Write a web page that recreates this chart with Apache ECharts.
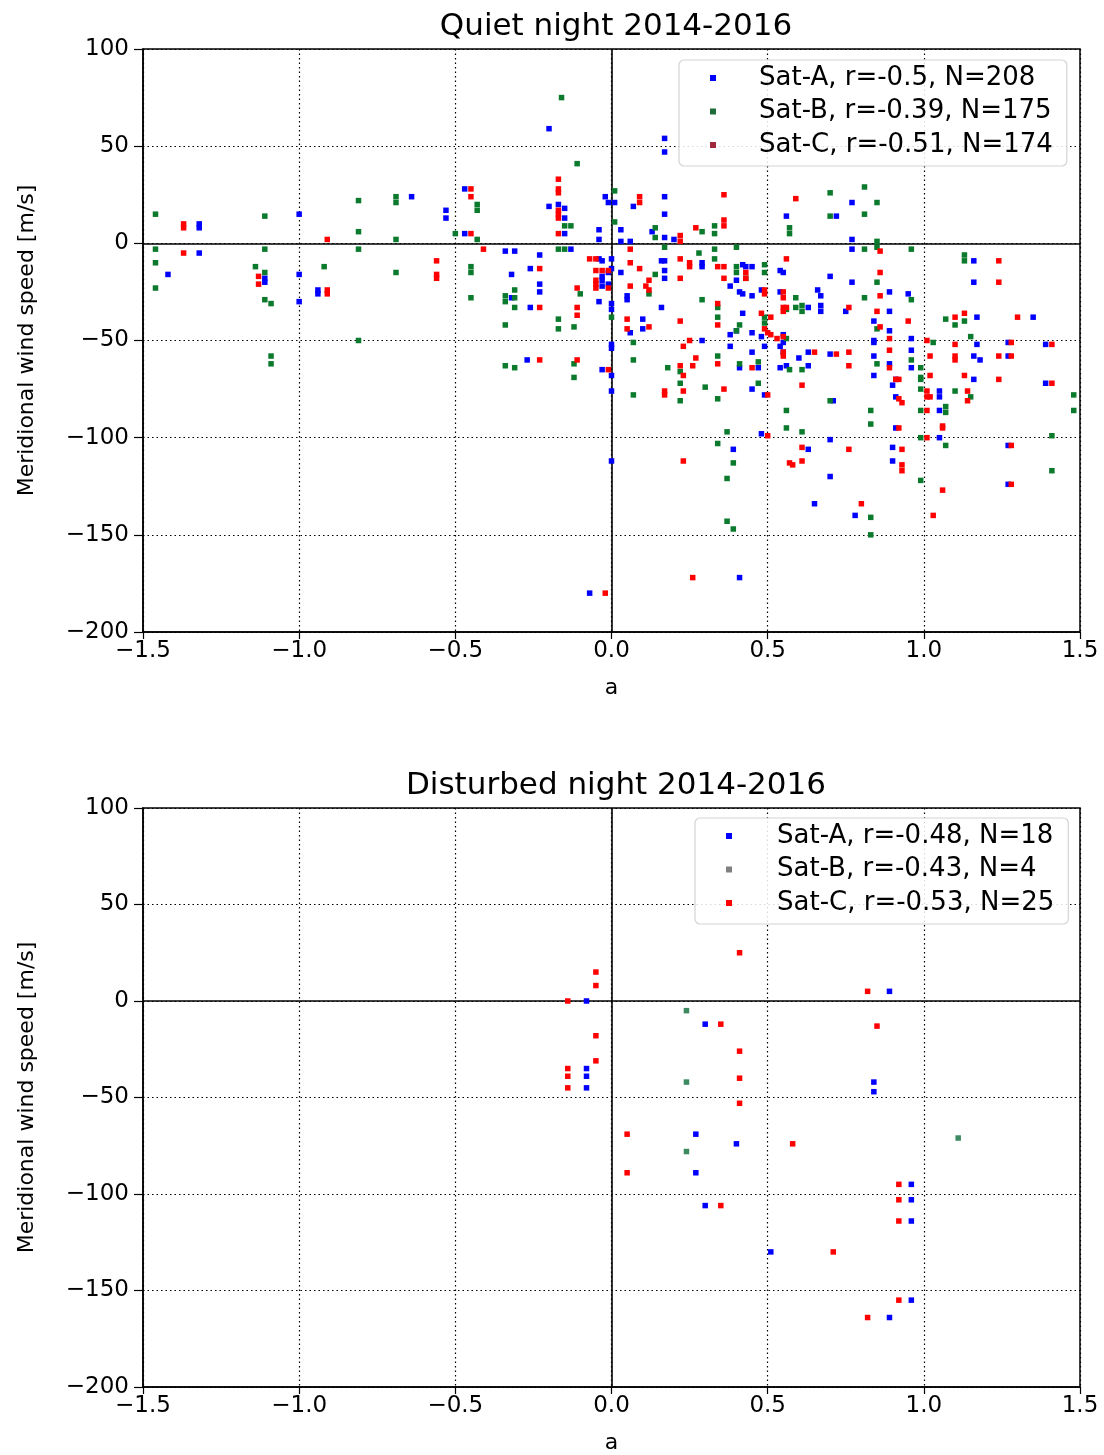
<!DOCTYPE html>
<html><head><meta charset="utf-8">
<script src="https://cdn.jsdelivr.net/npm/echarts@6/dist/echarts.min.js"></script>
<style>html,body{margin:0;padding:0;background:#fff}#c{width:1104px;height:1455px}</style>
</head><body><div id="c"></div>
<script>
// ---------- DATA ----------
const xTicks = [-1.5, -1.0, -0.5, 0.0, 0.5, 1.0, 1.5];
const yTicks = [-200, -150, -100, -50, 0, 50, 100];
const titles = ["Quiet night 2014-2016", "Disturbed night 2014-2016"];
const quietNames = ["Sat-A, r=-0.5, N=208", "Sat-B, r=-0.39, N=175", "Sat-C, r=-0.51, N=174"];
const disturbedNames = ["Sat-A, r=-0.48, N=18", "Sat-B, r=-0.43, N=4", "Sat-C, r=-0.53, N=25"];

const satA_quiet = [
[-1.42,-16],[-1.32,10],[-1.32,8],[-1.32,-5],[-1.11,-18],[-1.11,-20],[-1.0,15],[-1.0,-16],[-1.0,-30],
[-0.94,-24],[-0.94,-26],[-0.64,24],[-0.53,17],[-0.53,13],[-0.47,5],[-0.47,28],[-0.34,-4],[-0.31,-4],
[-0.23,-6],[-0.26,-13],[-0.32,-16],[-0.23,-21],[-0.23,-25],[-0.32,-28],[-0.26,-33],[-0.2,59],[0.17,54],[0.17,47],
[-0.2,19],[-0.17,20],[-0.15,18],[-0.15,13],[-0.15,5],[-0.13,-3],[-0.04,-8],[-0.03,-9],[-0.04,7],[-0.04,2],
[-0.02,24],[-0.01,21],[0.01,21],[0.03,7],[0.03,1],[0.06,1],[-0.03,-17],[-0.03,-19],[-0.03,-22],[-0.01,-21],[-0.01,-15],
[0.0,-8],[0.0,-13],[0.03,-15],[-0.04,-30],[0.0,-31],[0.0,-34],[0.0,-52],[0.07,19],[0.13,6],[0.17,24],[0.17,15],[0.17,3],[0.2,2],
[0.16,-9],[0.17,-9],[0.17,-14],[0.17,-18],[0.05,-27],[0.05,-29],[0.16,-33],[0.1,-39],[0.1,-44],[0.06,-46],
[0.29,-10],[0.29,-12],[0.42,-11],[0.45,-12],[0.43,-12],[0.38,-22],[0.40,-19],[0.41,-25],[0.42,-26],[0.45,-27],
[0.42,-36],[0.38,-47],[0.40,-45],[0.48,-24],[0.54,-14],[0.54,-25],[0.56,14],[0.45,-46],[0.48,-48],[0.49,-53],[0.55,-47],[0.55,-51],
[-0.27,-60],[-0.03,-65],[0.0,-68],[0.0,-76],[0.0,-112],[0.0,-54],[0.29,-50],[0.38,-53],[0.41,-64],[0.45,-56],[0.47,-64],
[0.45,-75],[0.49,-78],[0.48,-98],[0.39,-106],[0.41,-172],[-0.07,-180],[0.54,-53],[0.54,-64],
[0.77,21],[0.72,14],[0.77,2],[0.77,-3],[0.55,-15],[0.70,-17],[0.77,-20],[0.66,-24],[0.67,-27],[0.89,-25],[0.95,-26],
[0.63,-33],[0.67,-32],[0.67,-35],[0.75,-35],[0.89,-35],[0.84,-40],[0.89,-45],[0.84,-50],[0.84,-51],[0.96,-49],
[1.16,-9],[1.16,-20],[1.17,-38],[1.35,-38],[1.27,-51],[1.17,-52],[1.39,-52],[0.55,-56],[0.6,-59],[0.63,-56],[0.70,-57],
[0.84,-58],[0.96,-55],[0.56,-63],[0.63,-63],[0.84,-68],[0.89,-62],[0.96,-64],[0.9,-73],[0.91,-70],[0.71,-81],[0.91,-79],
[1.05,-76],[1.05,-79],[1.05,-86],[0.91,-95],[1.05,-100],[0.70,-101],[0.63,-106],[0.9,-105],[1.27,-104],
[0.9,-112],[0.70,-120],[1.27,-124],[0.65,-134],[0.78,-140],[1.16,-58],[1.18,-60],[1.16,-70],[1.27,-58],[1.39,-72]
];
const satB_quiet = [
[-1.46,15],[-1.46,-3],[-1.46,-10],[-1.46,-23],[-1.11,14],[-1.11,-3],[-1.14,-12],[-1.11,-15],[-1.11,-29],[-1.09,-31],
[-1.09,-58],[-1.09,-62],[-0.92,-12],[-0.81,22],[-0.81,6],[-0.81,-3],[-0.81,-50],[-0.69,24],[-0.69,21],[-0.69,2],[-0.69,-15],
[-0.5,5],[-0.43,20],[-0.43,17],[-0.43,2],[-0.45,-12],[-0.45,-15],[-0.45,-28],[-0.31,-24],[-0.34,-27],[-0.31,-28],[-0.34,-30],
[-0.31,-33],[-0.34,-42],[-0.17,-39],[-0.17,-44],[-0.12,-43],[-0.10,-26],[-0.16,75],[-0.11,41],[-0.15,9],[-0.13,9],[-0.17,-3],[-0.15,-3],
[0.01,27],[0.01,11],[0.0,-38],[0.07,-51],[0.14,8],[0.14,3],[0.17,-2],[0.14,-16],[0.12,-26],[0.28,-5],[0.29,-29],[0.29,6],
[0.33,9],[0.33,5],[0.33,-3],[0.33,-8],[0.34,-33],[0.34,-38],[0.4,-2],[0.4,-12],[0.4,-15],[0.43,-18],[0.41,-42],[0.4,-45],
[0.49,-11],[0.49,-15],[0.49,-38],[0.49,-41],[-0.34,-63],[-0.31,-64],[-0.12,-62],[-0.12,-69],[0.07,-60],[0.07,-78],[0.18,-64],
[0.22,-66],[0.22,-72],[0.22,-81],[0.30,-74],[0.34,-58],[0.34,-80],[0.41,-62],[0.47,-61],[0.47,-72],[0.37,-97],[0.34,-103],
[0.39,-113],[0.37,-121],[0.37,-143],[0.39,-147],[0.56,-86],[0.56,-95],[0.56,-49],[0.57,8],[0.57,5],[0.7,26],[0.81,29],[0.85,21],
[0.70,14],[0.81,15],[0.81,-3],[0.85,1],[0.85,-2],[0.96,-3],[0.85,-20],[0.59,-28],[0.81,-28],[0.96,-29],[0.56,-34],[0.59,-33],
[0.61,-32],[0.61,-35],[0.85,-44],[1.03,-51],[1.07,-39],[1.10,-42],[1.13,-40],[1.15,-48],[1.13,-6],[1.13,-9],[0.57,-65],[0.61,-65],
[0.85,-62],[0.96,-60],[0.99,-64],[0.99,-69],[0.99,-70],[0.70,-81],[0.99,-75],[1.10,-76],[1.15,-79],[1.48,-78],[1.48,-86],
[0.61,-97],[0.83,-86],[0.83,-93],[0.99,-86],[1.07,-87],[1.07,-84],[0.99,-100],[1.07,-104],[1.41,-99],[0.99,-122],[1.41,-117],
[0.83,-141],[0.83,-150]
];
const satC_quiet = [
[-1.37,10],[-1.37,8],[-1.37,-5],[-1.13,-17],[-1.13,-21],[-0.91,-24],[-0.91,-26],[-0.91,2],[-0.56,-9],[-0.56,-16],[-0.56,-18],
[-0.45,28],[-0.45,24],[-0.45,5],[-0.41,-3],[-0.23,-13],[-0.23,-33],[-0.17,33],[-0.17,28],[-0.17,26],[-0.17,17],[-0.17,15],
[-0.17,13],[-0.17,5],[-0.11,-23],[-0.11,-33],[-0.11,-37],[-0.07,-8],[-0.05,-8],[-0.05,-14],[-0.05,-19],[-0.05,-21],[-0.05,-23],
[-0.03,-14],[-0.01,-14],[-0.01,-23],[0.06,-3],[0.06,-10],[0.09,-13],[0.09,24],[0.09,21],[0.12,-19],[0.11,-22],[0.12,-24],[0.06,-22],
[0.05,-39],[0.05,-44],[0.12,-43],[0.22,4],[0.22,1],[0.22,-8],[0.25,-10],[0.25,-12],[0.22,-18],[0.22,-40],[0.27,8],[0.36,25],
[0.36,12],[0.36,9],[0.34,-12],[0.36,-12],[0.36,-18],[0.34,-31],[0.34,-42],[0.43,-15],[0.43,-18],[0.49,-24],[0.49,-26],[0.56,-8],
[0.56,-33],[0.49,-44],[0.5,-46],[0.51,-47],[0.53,-49],[0.48,-36],[0.51,-38],[-0.23,-60],[-0.11,-60],[-0.01,-65],[0.17,-76],[0.17,-78],
[0.23,-53],[0.25,-50],[0.22,-63],[0.23,-68],[0.23,-76],[0.27,-59],[0.26,-63],[0.34,-62],[0.36,-75],[0.45,-64],[0.5,-78],[0.5,-99],
[0.23,-112],[0.26,-172],[-0.02,-180],[0.57,-113],[0.55,-58],[0.59,23],[0.86,-4],[0.86,-15],[0.55,-25],[0.55,-28],[0.86,-27],
[0.55,-33],[0.55,-35],[0.76,-33],[0.85,-35],[0.95,-40],[0.86,-43],[0.89,-49],[1.01,-50],[1.10,-38],[1.13,-36],[1.24,-9],[1.24,-20],
[1.30,-38],[1.28,-51],[1.10,-52],[1.41,-52],[0.55,-48],[0.55,-56],[0.65,-56],[0.72,-57],[0.76,-56],[0.89,-55],[0.89,-64],[1.02,-68],
[0.91,-70],[0.92,-70],[0.61,-73],[0.92,-80],[0.93,-82],[1.01,-76],[1.01,-79],[1.14,-76],[1.14,-81],[1.01,-86],[0.92,-95],[1.06,-94],
[1.06,-95],[1.01,-100],[0.61,-105],[0.76,-106],[0.93,-106],[1.28,-104],[0.58,-114],[0.61,-112],[0.93,-114],[0.93,-117],[1.28,-124],
[1.06,-127],[0.80,-134],[1.03,-140],[0.76,-63],[1.10,-58],[1.10,-60],[1.02,-58],[1.24,-58],[1.28,-58],[1.13,-68],[1.24,-70],[1.41,-72],[1.02,-79]
];

const satA_dist = [
[-0.08,0],[0.30,-12],[-0.08,-35],[-0.08,-39],[-0.08,-45],[0.89,5],[0.84,-42],[0.84,-47],[0.27,-69],[0.40,-74],
[0.27,-89],[0.30,-106],[0.96,-95],[0.96,-103],[0.96,-114],[0.51,-130],[0.96,-155],[0.89,-164]
];
const satB_dist = [[0.24,-5],[0.24,-42],[0.24,-78],[1.11,-71]];
const satC_dist = [
[0.41,25],[-0.05,15],[-0.05,8],[-0.14,0],[0.35,-12],[-0.05,-18],[0.41,-26],[-0.05,-31],[-0.14,-35],[-0.14,-39],[-0.14,-45],
[0.41,-40],[0.41,-53],[0.82,5],[0.85,-13],[0.05,-69],[0.58,-74],[0.05,-89],[0.35,-106],[0.92,-95],[0.92,-103],[0.92,-114],
[0.71,-130],[0.92,-155],[0.82,-164]
];

// ---------- STYLE ----------
const FONT = "DejaVu Sans";
const BLUE = "#0000ff", GREEN = "#0b7a2c", RED = "#ff0000";
const dotted = {color: "#000", width: 1.2, type: [1.5, 3]};
const fmtX = v => v.toFixed(1).replace("-", "\u2212");
const fmtY = v => String(v).replace("-", "\u2212");

function xAxis(gi) {
  return {
    gridIndex: gi, type: "value", min: -1.5, max: 1.5, interval: 0.5,
    name: "a", nameLocation: "middle", nameGap: 45,
    nameTextStyle: {fontFamily: FONT, fontSize: 22, color: "#000"},
    axisLine: {show: true, onZero: false, lineStyle: {color: "#000", width: 1.5}},
    axisTick: {show: true, inside: false, length: 7, lineStyle: {color: "#000", width: 1.2}},
    axisLabel: {fontFamily: FONT, fontSize: 23, color: "#000", margin: 8, formatter: fmtX},
    splitLine: {show: true, lineStyle: dotted}
  };
}
function yAxis(gi) {
  return {
    gridIndex: gi, type: "value", min: -200, max: 100, interval: 50,
    name: "Meridional wind speed [m/s]", nameLocation: "middle", nameGap: 105, nameRotate: 90,
    nameTextStyle: {fontFamily: FONT, fontSize: 22, color: "#000"},
    axisLine: {show: true, onZero: false, lineStyle: {color: "#000", width: 1.5}},
    axisTick: {show: true, inside: false, length: 9, lineStyle: {color: "#000", width: 1.2}},
    axisLabel: {fontFamily: FONT, fontSize: 23, color: "#000", margin: 14, formatter: fmtY},
    splitLine: {show: true, lineStyle: dotted}
  };
}
function scatter(name, data, color, gi, withZero) {
  const s = {
    name, type: "scatter", xAxisIndex: gi, yAxisIndex: gi, data,
    symbol: "rect", symbolSize: 5.5, itemStyle: {color, opacity: 1}, z: 3, silent: true
  };
  if (withZero) {
    s.markLine = {
      silent: true, symbol: "none", label: {show: false}, z: 2,
      lineStyle: {color: "#000", width: 1.6, type: "solid"},
      data: [{xAxis: 0}, {yAxis: 0}]
    };
  }
  return s;
}
function legend(names, colors, left, top, textPad) {
  return {
    orient: "vertical", left, top,
    data: names.map((n, i) => ({name: n, itemStyle: {color: colors[i], opacity: 1}})),
    icon: "rect", itemWidth: 6, itemHeight: 6, itemGap: 7.5,
    padding: [5, 14, 8, 31],
    backgroundColor: "rgba(255,255,255,0.85)", borderColor: "#d4d4d4", borderWidth: 1.2, borderRadius: 5,
    textStyle: {fontFamily: FONT, fontSize: 26, color: "#000", lineHeight: 26, padding: [0, 0, 0, textPad]},
    selectedMode: false
  };
}

const chart = echarts.init(document.getElementById("c"), null, {renderer: "canvas"});
chart.setOption({
  animation: false,
  backgroundColor: "#fff",
  title: [
    {text: titles[0], left: 611, top: 6, textAlign: "center",
     textStyle: {fontFamily: FONT, fontSize: 31, fontWeight: "normal", color: "#000"}},
    {text: titles[1], left: 611, top: 765, textAlign: "center",
     textStyle: {fontFamily: FONT, fontSize: 31, fontWeight: "normal", color: "#000"}}
  ],
  legend: [
    legend(quietNames, [BLUE, "#1f6b3a", "#a0283c"], 679, 60, 38),
    legend(disturbedNames, [BLUE, "#808080", RED], 695, 818, 40)
  ],
  grid: [
    {left: 143, top: 49, width: 937, height: 583, show: true, borderColor: "#000", borderWidth: 1.5, backgroundColor: "transparent"},
    {left: 143, top: 808, width: 937, height: 582, show: true, borderColor: "#000", borderWidth: 1.5, backgroundColor: "transparent"}
  ],
  xAxis: [xAxis(0), xAxis(1)],
  yAxis: [yAxis(0), yAxis(1)],
  series: [
    scatter(quietNames[0], satA_quiet, BLUE, 0, true),
    scatter(quietNames[1], satB_quiet, GREEN, 0, false),
    scatter(quietNames[2], satC_quiet, RED, 0, false),
    scatter(disturbedNames[0], satA_dist, BLUE, 1, true),
    scatter(disturbedNames[1], satB_dist, "#3d8a60", 1, false),
    scatter(disturbedNames[2], satC_dist, RED, 1, false)
  ]
});
</script>
</body></html>
